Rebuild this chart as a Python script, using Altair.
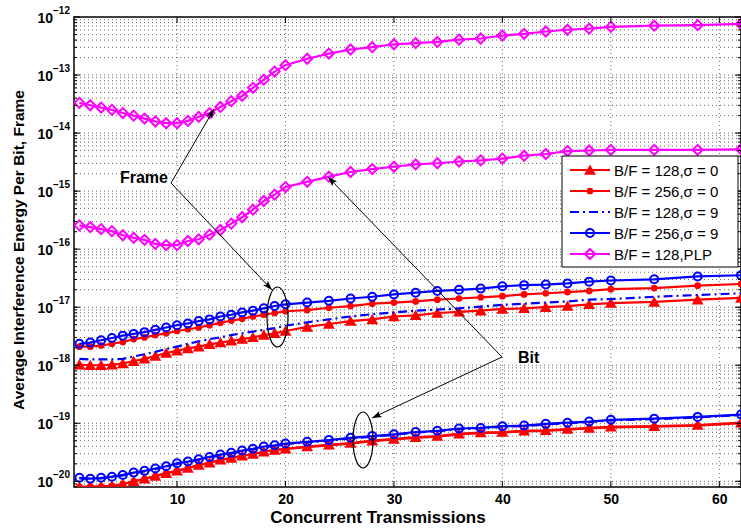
import math
import altair as alt
import pandas as pd

# ---------------- data ----------------
x_vals = [1, 2, 3, 4, 5, 6, 7, 8, 9, 10, 11, 12, 13, 14, 15, 16, 17, 18, 19, 20,
          22, 24, 26, 28, 30, 32, 34, 36, 38, 40, 42, 44, 46, 48, 50, 54, 58, 62]

# log10 of the average interference energy
tri128_frame = [-17.99, -18.00, -18.00, -17.99, -17.97, -17.93, -17.89, -17.84, -17.79, -17.75,
                -17.71, -17.68, -17.64, -17.61, -17.58, -17.55, -17.52, -17.48, -17.45, -17.41,
                -17.34, -17.29, -17.24, -17.21, -17.16, -17.14, -17.10, -17.08, -17.06, -17.03,
                -17.02, -17.00, -16.98, -16.95, -16.93, -16.91, -16.87, -16.84]
tri128_bit = [-20.10, -20.09, -20.09, -20.08, -20.05, -20.00, -19.955, -19.91, -19.86, -19.82,
              -19.77, -19.72, -19.68, -19.63, -19.60, -19.56, -19.53, -19.49, -19.46, -19.44,
              -19.40, -19.37, -19.34, -19.30, -19.27, -19.24, -19.22, -19.18, -19.16, -19.15,
              -19.13, -19.12, -19.10, -19.08, -19.06, -19.05, -19.03, -18.99]

dot256_frame = [-17.68, -17.68, -17.66, -17.63, -17.60, -17.55, -17.52, -17.48, -17.45, -17.41,
                -17.38, -17.35, -17.31, -17.27, -17.23, -17.20, -17.16, -17.13, -17.10, -17.07,
                -17.05, -17.01, -16.98, -16.94, -16.92, -16.90, -16.87, -16.85, -16.83, -16.81,
                -16.78, -16.76, -16.74, -16.72, -16.69, -16.67, -16.63, -16.60]
dot256_bit = [-20.10, -20.09, -20.09, -20.08, -20.05, -20.00, -19.96, -19.91, -19.86, -19.82,
              -19.77, -19.72, -19.68, -19.63, -19.60, -19.56, -19.53, -19.49, -19.46, -19.44,
              -19.41, -19.38, -19.35, -19.31, -19.28, -19.25, -19.23, -19.19, -19.17, -19.16,
              -19.14, -19.13, -19.11, -19.09, -19.07, -19.06, -19.04, -19.00]

dd128_frame = [-17.89, -17.90, -17.90, -17.90, -17.89, -17.85, -17.81, -17.77, -17.72, -17.68,
               -17.63, -17.59, -17.55, -17.52, -17.48, -17.45, -17.42, -17.39, -17.36, -17.32,
               -17.26, -17.21, -17.16, -17.12, -17.09, -17.06, -17.04, -17.02, -16.99, -16.96,
               -16.94, -16.92, -16.90, -16.87, -16.86, -16.82, -16.79, -16.76]
dd128_bit = [-19.95, -19.96, -19.95, -19.93, -19.90, -19.86, -19.83, -19.79, -19.75, -19.70,
             -19.67, -19.63, -19.59, -19.55, -19.52, -19.48, -19.45, -19.41, -19.39, -19.36,
             -19.33, -19.30, -19.26, -19.23, -19.20, -19.16, -19.14, -19.10, -19.09, -19.06,
             -19.05, -19.02, -19.00, -18.98, -18.95, -18.93, -18.90, -18.86]

cir256_frame = [-17.63, -17.61, -17.57, -17.53, -17.49, -17.46, -17.43, -17.39, -17.35, -17.31,
                -17.28, -17.24, -17.21, -17.16, -17.13, -17.09, -17.06, -17.02, -16.98, -16.95,
                -16.92, -16.89, -16.85, -16.82, -16.78, -16.75, -16.72, -16.70, -16.68, -16.64,
                -16.62, -16.61, -16.59, -16.56, -16.54, -16.52, -16.47, -16.45]
cir256_bit = [-19.94, -19.955, -19.94, -19.92, -19.89, -19.85, -19.82, -19.78, -19.74, -19.69,
              -19.66, -19.62, -19.58, -19.54, -19.51, -19.47, -19.44, -19.40, -19.38, -19.35,
              -19.32, -19.29, -19.25, -19.22, -19.19, -19.15, -19.13, -19.09, -19.08, -19.05,
              -19.04, -19.01, -18.99, -18.97, -18.94, -18.92, -18.89, -18.85]

plp128_frame = [-13.48, -13.52, -13.56, -13.60, -13.655, -13.70, -13.75, -13.80, -13.83, -13.83,
                -13.79, -13.72, -13.655, -13.55, -13.45, -13.36, -13.22, -13.08, -12.94, -12.83,
                -12.72, -12.63, -12.56, -12.52, -12.47, -12.45, -12.43, -12.39, -12.37, -12.32,
                -12.29, -12.25, -12.22, -12.20, -12.17, -12.15, -12.14, -12.12]
plp128_bit = [-15.59, -15.62, -15.655, -15.69, -15.76, -15.805, -15.84, -15.91, -15.93, -15.93,
              -15.86, -15.83, -15.75, -15.67, -15.56, -15.45, -15.32, -15.17, -15.06, -14.93,
              -14.84, -14.75, -14.67, -14.62, -14.58, -14.54, -14.52, -14.49, -14.47, -14.44,
              -14.39, -14.36, -14.31, -14.30, -14.29, -14.29, -14.29, -14.28]

legend_labels = ["B/F = 128,σ = 0", "B/F = 256,σ = 0", "B/F = 128,σ = 9",
                 "B/F = 256,σ = 9", "B/F = 128,PLP"]
x_ticks = [10, 20, 30, 40, 50, 60]
y_decades = [-20, -19, -18, -17, -16, -15, -14, -13, -12]

# ---------------- styling ----------------
FONT = "Liberation Sans"
W, H = 667, 470
RED, BLUE, MAG = "#FF0000", "#0000FF", "#FF00FF"

xscale = alt.Scale(domain=[0.5, 62], nice=False, zero=False)
yscale = alt.Scale(type="log", domain=[7.98e-21, 1e-12], nice=False)
xaxis = alt.Axis(values=x_ticks, grid=False, ticks=False, domain=False, title=None,
                 labelFont=FONT, labelFontWeight="bold", labelFontSize=14,
                 labelColor="black", labelPadding=5, labelFlush=False)
x_enc = alt.X("x:Q", scale=xscale, axis=xaxis, title=None)
y_enc = alt.Y("y:Q", scale=yscale, axis=None, title=None)

series = [
    ("tri", legend_labels[0], tri128_frame, tri128_bit, RED, None,
     dict(shape="triangle-up", filled=True, size=85, stroke=RED, strokeWidth=1.5)),
    ("dot", legend_labels[1], dot256_frame, dot256_bit, RED, None,
     dict(shape="circle", filled=True, size=45)),
    ("dd", legend_labels[2], dd128_frame, dd128_bit, BLUE, [9, 4, 2, 4], None),
    ("cir", legend_labels[3], cir256_frame, cir256_bit, BLUE, None,
     dict(shape="circle", filled=False, size=64, strokeWidth=2)),
    ("plp", legend_labels[4], plp128_frame, plp128_bit, MAG, None,
     dict(shape="diamond", filled=False, size=100, strokeWidth=2)),
]

layers = []

# grid
hgrid = pd.DataFrame({"y": [m * 10.0 ** d for d in range(-21, -12) for m in range(1, 10)
                            if 7.98e-21 <= m * 10.0 ** d <= 1e-12]})
vgrid = pd.DataFrame({"x": x_ticks})
layers.append(alt.Chart(hgrid).mark_rule(color="#444", strokeWidth=1, strokeDash=[1, 3],
                                         opacity=0.8).encode(y=y_enc))
layers.append(alt.Chart(vgrid).mark_rule(color="#444", strokeWidth=1, strokeDash=[1, 3],
                                         opacity=0.8).encode(x=x_enc))

# curves
for key, label, fr, bi, col, dash, mk in series:
    rows = []
    for xv, v in zip(x_vals, fr):
        rows.append({"x": xv, "y": 10.0 ** v, "grp": "frame"})
    for xv, v in zip(x_vals, bi):
        rows.append({"x": xv, "y": 10.0 ** v, "grp": "bit"})
    df = pd.DataFrame(rows)
    lkw = dict(color=col, strokeWidth=2.2, clip=True)
    if dash:
        lkw["strokeDash"] = dash
    layers.append(alt.Chart(df).mark_line(**lkw).encode(x=x_enc, y=y_enc, detail="grp:N"))
    if mk:
        layers.append(alt.Chart(df).mark_point(color=col, opacity=1, clip=True, **mk)
                      .encode(x=x_enc, y=y_enc))

# ticks (inside, MATLAB style)
ymaj = pd.DataFrame({"y": [10.0 ** d for d in y_decades]})
ymin = hgrid
xt = pd.DataFrame({"x": x_ticks})
for df, ln in ((ymaj, 6), (ymin, 3)):
    layers.append(alt.Chart(df).mark_rule(color="black", strokeWidth=1)
                  .encode(y=y_enc, x=alt.value(0), x2=alt.value(ln)))
    layers.append(alt.Chart(df).mark_rule(color="black", strokeWidth=1)
                  .encode(y=y_enc, x=alt.value(W - ln), x2=alt.value(W)))
layers.append(alt.Chart(xt).mark_rule(color="black", strokeWidth=1)
              .encode(x=x_enc, y=alt.value(0), y2=alt.value(6)))
layers.append(alt.Chart(xt).mark_rule(color="black", strokeWidth=1)
              .encode(x=x_enc, y=alt.value(H - 6), y2=alt.value(H)))

# y tick labels 10^k
ylab = pd.DataFrame({"y": [10.0 ** d for d in y_decades],
                     "base": ["10"] * len(y_decades),
                     "exp": ["\u2212" + str(-d) for d in y_decades]})
layers.append(alt.Chart(ylab).mark_text(align="right", baseline="middle", dy=2, font=FONT,
                                        fontSize=14, fontWeight="bold", color="black")
              .encode(y=y_enc, x=alt.value(-21), text="base:N"))
layers.append(alt.Chart(ylab).mark_text(align="left", baseline="middle", dy=-6, font=FONT,
                                        fontSize=10, fontWeight="bold", color="black")
              .encode(y=y_enc, x=alt.value(-21), text="exp:N"))

one = pd.DataFrame({"d": [0]})


def text(t, x, y, size=16, weight="bold", align="center", angle=0, baseline="middle"):
    kw = dict(text=t, font=FONT, fontSize=size, fontWeight=weight, align=align,
              baseline=baseline, color="black")
    if angle:
        kw["angle"] = angle
    return alt.Chart(one).mark_text(**kw).encode(x=alt.value(x), y=alt.value(y))


# axis titles
layers.append(text("Average Interference Energy Per Bit, Frame", -55, 233, size=15.5, angle=270))
layers.append(text("Concurrent Transmissions", 304, 501, size=17))

# annotations: arrows, ellipses
ARROW = "M0,-1 L0.55,0.6 L0,0.25 L-0.55,0.6 Z"
arrows = [(97, 166, 140, 92), (97, 166, 198, 273), (428, 340, 254, 160), (428, 340, 298, 401)]
for x0, y0, x1, y1 in arrows:
    layers.append(alt.Chart(one).mark_rule(color="black", strokeWidth=1)
                  .encode(x=alt.value(x0), y=alt.value(y0), x2=alt.value(x1), y2=alt.value(y1)))
    dx, dy = x1 - x0, y1 - y0
    L = math.hypot(dx, dy)
    ang = math.degrees(math.atan2(dx, -dy)) % 360
    s = 6.0
    cx, cy = x1 - dx / L * s, y1 - dy / L * s
    layers.append(alt.Chart(one).mark_point(shape=ARROW, angle=ang, size=(2 * s) ** 2,
                                            filled=True, color="black", opacity=1)
                  .encode(x=alt.value(cx), y=alt.value(cy)))


def ellipse_path(a):
    k = 0.5523
    return (f"M{a},0 C{a},{k} {a*k},1 0,1 C{-a*k},1 {-a},{k} {-a},0 "
            f"C{-a},{-k} {-a*k},-1 0,-1 C{a*k},-1 {a},{-k} {a},0 Z")


for cx, cy, rx, ry in [(203.5, 300, 10.5, 30), (289, 423, 10, 28)]:
    layers.append(alt.Chart(one).mark_point(shape=ellipse_path(rx / ry), size=(2 * ry) ** 2,
                                            filled=False, color="black", strokeWidth=1.2,
                                            opacity=1)
                  .encode(x=alt.value(cx), y=alt.value(cy)))

layers.append(text("Frame", 94, 161, align="right"))
layers.append(text("Bit", 444, 341, align="left"))

# legend (drawn manually, MATLAB style)
layers.append(alt.Chart(one).mark_rect(fill="white", stroke="black", strokeWidth=1)
              .encode(x=alt.value(488), x2=alt.value(664), y=alt.value(139), y2=alt.value(250)))
row_y = [153, 174, 195, 216, 237]
for (key, label, fr, bi, col, dash, mk), ry in zip(series, row_y):
    rkw = dict(color=col, strokeWidth=2.2)
    if dash:
        rkw["strokeDash"] = dash
    layers.append(alt.Chart(one).mark_rule(**rkw)
                  .encode(x=alt.value(496), x2=alt.value(536), y=alt.value(ry)))
    if mk:
        layers.append(alt.Chart(one).mark_point(color=col, opacity=1, **mk)
                      .encode(x=alt.value(516), y=alt.value(ry)))
    layers.append(text(label, 540, ry + 1, size=15, weight="normal", align="left"))

chart = (alt.layer(*layers)
         .properties(width=W, height=H,
                     autosize=alt.AutoSizeParams(type="none"),
                     padding={"left": 74, "top": 17, "right": 0, "bottom": 42},
                     background="white")
         .configure_view(stroke="black", strokeWidth=1.5))

chart.save("out.html", embed_options={"renderer": "svg", "actions": False})
